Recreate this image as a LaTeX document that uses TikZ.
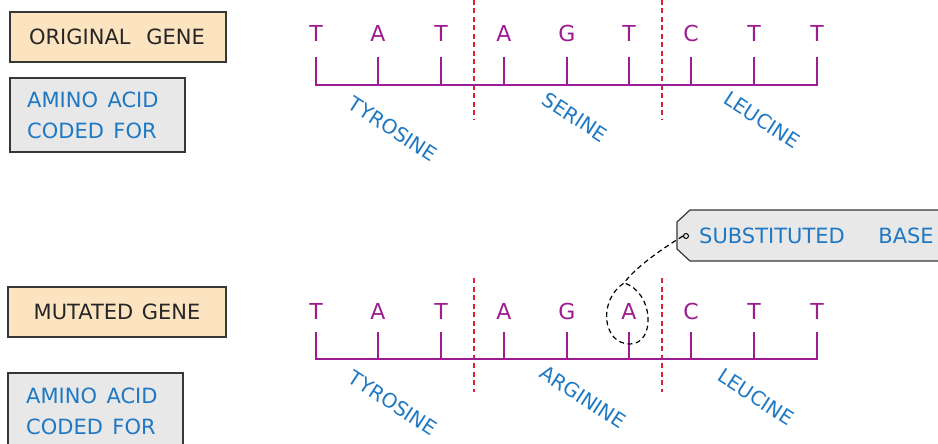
\documentclass[tikz,border=0pt]{standalone}
\usepackage{fontspec}
\setmainfont{DejaVu Sans}
\definecolor{dna}{RGB}{158,28,145}
\definecolor{aablue}{RGB}{30,120,195}
\definecolor{cut}{RGB}{225,35,45}
\definecolor{peach}{RGB}{253,228,192}
\definecolor{boxgray}{RGB}{232,232,232}
\definecolor{edge}{RGB}{55,55,55}
\tikzset{
  genebox/.style={draw=edge, line width=1.2pt, fill=peach},
  aabox/.style={draw=edge, line width=1.2pt, fill=boxgray},
  base/.style={text=dna, font=\fontsize{22}{26}\selectfont, inner sep=0pt},
  strand/.style={draw=dna, line width=1.8pt},
  codon/.style={draw=cut, line width=1.3pt, dash pattern=on 5pt off 3.5pt},
  aalabel/.style={text=aablue, font=\fontsize{20}{24}\selectfont, rotate=-33, inner sep=0pt},
  boxtext/.style={font=\fontsize{21}{31}\selectfont, align=left, inner sep=0pt},
  callout/.style={draw=black, line width=1.2pt, dash pattern=on 5pt off 3.5pt}
}
\begin{document}
\begin{tikzpicture}[x=1pt,y=-1pt]
\useasboundingbox (0,0) rectangle (938,444);
% ---------- left boxes ----------
\draw[genebox] (10,12) rectangle (226,62);
\node[boxtext, text=black!85] (og) at (117,37) {ORIGINAL\hspace{0.75em}GENE};
\draw[aabox] (10,78) rectangle (185,152);
\node[boxtext, text=aablue, anchor=west] (aa1) at (27,115.5) {AMINO\hspace{0.45em}ACID\\CODED\hspace{0.45em}FOR};
\draw[genebox] (8,287) rectangle (226,337);
\node[boxtext, text=black!85] (mg) at (117,312) {MUTATED\hspace{0.4em}GENE};
\draw[aabox] (8,373) rectangle (183,460);
\node[boxtext, text=aablue, anchor=west] (aa2) at (26,411) {AMINO\hspace{0.45em}ACID\\CODED\hspace{0.45em}FOR};
% ---------- codon separators ----------
\draw[codon] (474,0) -- (474,120);
\draw[codon] (662,0) -- (662,120);
\draw[codon] (474,278) -- (474,392);
\draw[codon] (662,278) -- (662,392);
% ---------- original strand ----------
\foreach \b/\xx [count=\i] in {T/316,A/378,T/441,A/504,G/567,T/629,C/691,T/754,T/817} {
  \node[base] (t\i) at (\xx,33) {\b};
  \coordinate (ta\i) at (\xx,57);
  \coordinate (tb\i) at (\xx,85);
  \draw[strand] (ta\i) -- (tb\i);
}
\draw[strand, line cap=rect] (tb1) -- (tb9);
% ---------- mutated strand ----------
\foreach \b/\xx [count=\i] in {T/316,A/378,T/441,A/504,G/567,A/629,C/691,T/754,T/817} {
  \node[base] (m\i) at (\xx,311) {\b};
  \coordinate (ma\i) at (\xx,332);
  \coordinate (mb\i) at (\xx,359);
  \draw[strand] (ma\i) -- (mb\i);
}
\draw[strand, line cap=rect] (mb1) -- (mb9);
% ---------- amino acid labels ----------
\node[aalabel] (tyr1) at (393,129) {TYROSINE};
\node[aalabel] (ser) at (575,117) {SERINE};
\node[aalabel] (leu1) at (762,120) {LEUCINE};
\node[aalabel] (tyr2) at (393,403) {TYROSINE};
\node[aalabel] (arg) at (583,397) {ARGININE};
\node[aalabel] (leu2) at (756,397) {LEUCINE};
% ---------- substituted base callout ----------
\draw[aabox] (945,210) -- (690,210) -- (677,222) -- (677,249) -- (690,261) -- (945,261);
\node[circle, draw=black, line width=1pt, minimum size=5pt, inner sep=0pt] (pin) at (686,236) {};
\node[text=aablue, font=\fontsize{21}{24}\selectfont, anchor=west, inner sep=0pt] (sb) at (699,236) {SUBSTITUTED\hspace{1.6em}BASE};
\coordinate (loop) at (624,283);
\draw[callout] (pin.west) .. controls (660,250) and (635,268) .. (loop)
  .. controls (598,300) and (602,344) .. (630,344)
  .. controls (656,344) and (654,292) .. (loop);
\end{tikzpicture}
\end{document}
